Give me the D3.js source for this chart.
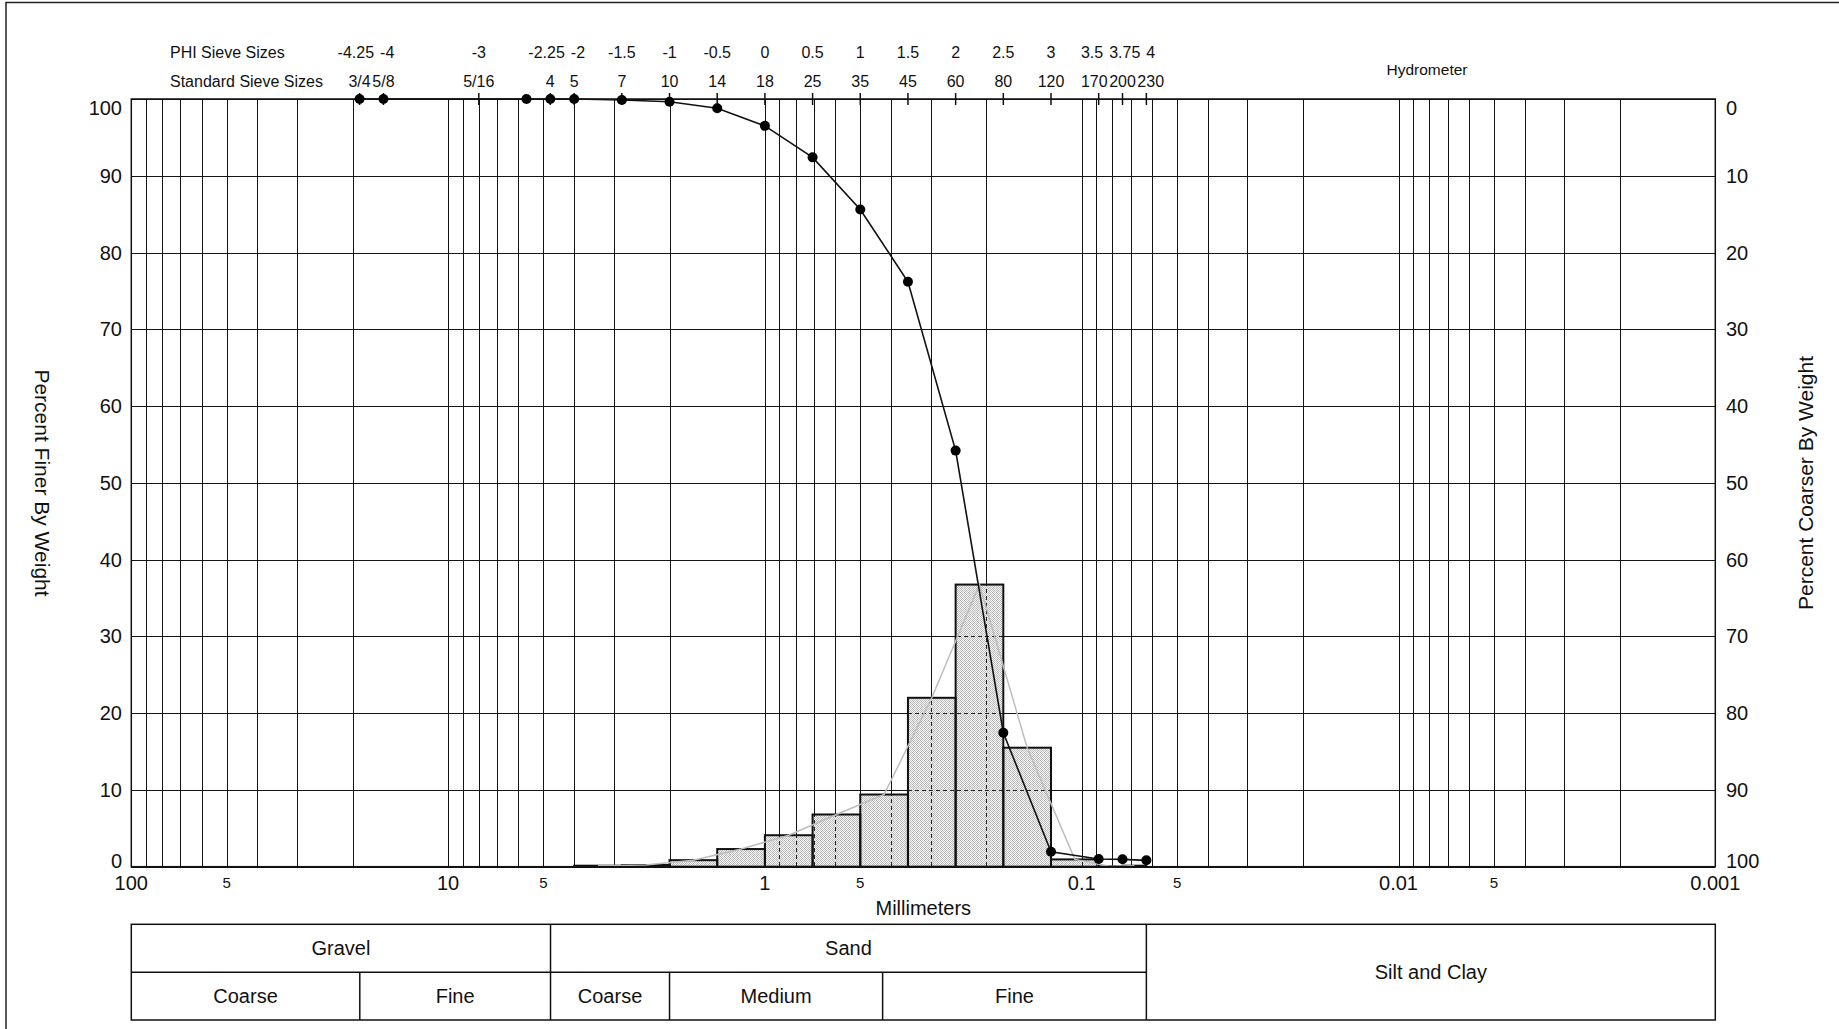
<!DOCTYPE html>
<html><head><meta charset="utf-8">
<script src="https://cdn.jsdelivr.net/npm/d3@7"></script>
<style>
html,body{margin:0;padding:0;background:#fff;}
svg{display:block;font-family:"Liberation Sans",Arial,Helvetica,sans-serif;}
</style></head><body>
<svg id="chart" width="1839" height="1029"></svg>
<script>
// Sieve stack: phi sizes and the matching standard sieve numbers
const phiSieves   = [-4.25, -4, -3, -2.25, -2, -1.5, -1, -0.5, 0, 0.5, 1, 1.5, 2, 2.5, 3, 3.5, 3.75, 4];
const phiLabels   = ["-4.25","-4","-3","-2.25","-2","-1.5","-1","-0.5","0","0.5","1","1.5","2","2.5","3","3.5","3.75","4"];
const sieveLabels = ["3/4","5/8","5/16","4","5","7","10","14","18","25","35","45","60","80","120","170","200","230"];

// Cumulative percent finer at each weighed sieve (phi)
const cumPhi   = [-4.25, -4, -2.5, -2.25, -2, -1.5, -1, -0.5, 0, 0.5, 1, 1.5, 2, 2.5, 3, 3.5, 3.75, 4];
const cumFiner = [100, 100, 100, 100, 100, 99.87, 99.65, 98.8, 96.5, 92.4, 85.6, 76.2, 54.2, 17.45, 1.95, 1.0, 0.96, 0.83];

// Percent retained per sieve interval (histogram bins, phi)
const binLo  = [-2, -1.5, -1, -0.5, 0, 0.5, 1, 1.5, 2, 2.5, 3, 3.5, 3.75];
const binHi  = [-1.5, -1, -0.5, 0, 0.5, 1, 1.5, 2, 2.5, 3, 3.5, 3.75, 4];
const binPct = [0.13, 0.22, 0.85, 2.3, 4.1, 6.8, 9.4, 22.0, 36.75, 15.5, 0.95, 0.04, 0.13];

// Axis ticks
const majorTicks  = [100, 10, 1, 0.1, 0.01, 0.001];
const majorLabels = ["100", "10", "1", "0.1", "0.01", "0.001"];
const minorTicks  = [50, 5, 0.5, 0.05, 0.005];
const minorLabels = ["5", "5", "5", "5", "5"];
const yTicks = [0, 10, 20, 30, 40, 50, 60, 70, 80, 90, 100];

// Grain-size classes (mm edges)
const classNames = ["Gravel", "Sand", "Silt and Clay"];
const classEdges = [100, 4.75, 0.0625, 0.001];
const subNames   = ["Coarse", "Fine", "Coarse", "Medium", "Fine"];
const subEdges   = [100, 19, 4.75, 2, 0.425, 0.0625];

const mm = p => Math.pow(2, -p);

const svg = d3.select("#chart");
const plotTop = 99, plotBottom = 866.7;
const x = d3.scaleLog().domain([100, 0.001]).range([131.3, 1715.3]);
const y = d3.scaleLinear().domain([0, 100]).range([plotBottom, plotTop]);
const ink = "#111";

// outer frame
svg.append("path").attr("d", "M6,1029 V2.5 H1839").attr("fill", "none")
  .attr("stroke", "#222").attr("stroke-width", 1.5);

// pattern for the histogram bars
const defs = svg.append("defs");
const pat = defs.append("pattern").attr("id", "stip").attr("patternUnits", "userSpaceOnUse")
  .attr("x", 0).attr("y", 0).attr("width", 4).attr("height", 4);
pat.append("rect").attr("width", 4).attr("height", 4).attr("fill", "#f4f4f4");
[[0,0],[2,0],[1,1],[0,2],[2,2],[3,3],[1,3],[3,1]].forEach(([a,b], i) => {
  pat.append("rect").attr("x", a).attr("y", b).attr("width", 1).attr("height", 1)
    .attr("fill", i % 2 ? "#c4c4c4" : "#b2b2b2");
});

// gridline values: 1..9 x 10^k plus 100
const gridX = [];
for (let k = -3; k <= 1; k++) for (let d = 1; d <= 9; d++) gridX.push(d * Math.pow(10, k));
gridX.push(100);

const grid = svg.append("g").attr("stroke", "#141414").attr("stroke-width", 1).attr("shape-rendering", "crispEdges");
function drawGrid(g) {
  g.selectAll("line.v").data(gridX).join("line").attr("class", "v")
    .attr("x1", d => Math.round(x(d)) + 0.5).attr("x2", d => Math.round(x(d)) + 0.5)
    .attr("y1", plotTop).attr("y2", plotBottom);
  g.selectAll("line.h").data(yTicks).join("line").attr("class", "h")
    .attr("x1", x(100)).attr("x2", x(0.001))
    .attr("y1", d => Math.round(y(d)) + 0.5).attr("y2", d => Math.round(y(d)) + 0.5);
}
drawGrid(grid);

// histogram bars
const bins = binLo.map((lo, i) => ({ lo: mm(lo), hi: mm(binHi[i]), v: binPct[i], mid: mm((lo + binHi[i]) / 2) }));
const clip = defs.append("clipPath").attr("id", "barclip");
clip.selectAll("rect").data(bins).join("rect")
  .attr("x", d => x(d.lo)).attr("width", d => x(d.hi) - x(d.lo))
  .attr("y", d => y(d.v)).attr("height", d => y(0) - y(d.v));

svg.append("g").selectAll("rect").data(bins).join("rect")
  .attr("x", d => x(d.lo)).attr("width", d => x(d.hi) - x(d.lo))
  .attr("y", d => y(d.v)).attr("height", d => y(0) - y(d.v))
  .attr("fill", "url(#stip)");

// gridlines show through the bars as dashes
const gridIn = svg.append("g").attr("clip-path", "url(#barclip)")
  .attr("stroke", "#222").attr("stroke-width", 1).attr("stroke-dasharray", "4,3").attr("shape-rendering", "crispEdges");
drawGrid(gridIn);

svg.append("g").selectAll("rect").data(bins).join("rect")
  .attr("x", d => x(d.lo)).attr("width", d => x(d.hi) - x(d.lo))
  .attr("y", d => y(d.v)).attr("height", d => y(0) - y(d.v))
  .attr("fill", "none").attr("stroke", ink).attr("stroke-width", 2);

// frequency polygon through bin midpoints
svg.append("path").datum(bins)
  .attr("d", d3.line().x(d => x(d.mid)).y(d => y(d.v)))
  .attr("fill", "none").attr("stroke", "#bdbdbd").attr("stroke-width", 1.5);

// plot border
svg.append("rect").attr("x", x(100)).attr("y", plotTop).attr("width", x(0.001) - x(100)).attr("height", plotBottom - plotTop)
  .attr("fill", "none").attr("stroke", ink).attr("stroke-width", 1.5);

// sieve ticks along the top edge
svg.append("g").selectAll("line").data(phiSieves).join("line")
  .attr("x1", d => x(mm(d))).attr("x2", d => x(mm(d)))
  .attr("y1", plotTop - 6).attr("y2", plotTop + 6)
  .attr("stroke", ink).attr("stroke-width", 1.5);

// cumulative curve
const cum = cumPhi.map((p, i) => ({ s: mm(p), v: cumFiner[i] }));
svg.append("path").datum(cum)
  .attr("d", d3.line().x(d => x(d.s)).y(d => y(d.v)))
  .attr("fill", "none").attr("stroke", ink).attr("stroke-width", 1.6);
svg.append("g").selectAll("circle").data(cum).join("circle")
  .attr("cx", d => x(d.s)).attr("cy", d => y(d.v)).attr("r", 5).attr("fill", "#000");

// top label rows
const txt = svg.append("g").attr("fill", ink);
txt.append("text").attr("x", 170).attr("y", 58).attr("font-size", 16).text("PHI Sieve Sizes");
txt.append("text").attr("x", 170).attr("y", 87).attr("font-size", 16).text("Standard Sieve Sizes");

// spread neighbouring labels of a row apart so they do not collide
function spreadRow(sel, gap) {
  const nodes = sel.nodes();
  const w = nodes.map(n => n.getComputedTextLength());
  const cx = nodes.map(n => +n.getAttribute("x"));
  for (let it = 0; it < 60; it++) {
    for (let i = 0; i < cx.length - 1; i++) {
      const need = (w[i] + w[i + 1]) / 2 + gap - (cx[i + 1] - cx[i]);
      if (need > 0.01) { cx[i] -= need / 2; cx[i + 1] += need / 2; }
    }
  }
  nodes.forEach((n, i) => n.setAttribute("x", cx[i]));
}
const phiRow = txt.append("g").selectAll("text").data(phiSieves).join("text")
  .attr("x", d => x(mm(d))).attr("y", 58).attr("font-size", 16).attr("text-anchor", "middle")
  .text((d, i) => phiLabels[i]);
const stdRow = txt.append("g").selectAll("text").data(phiSieves).join("text")
  .attr("x", d => x(mm(d))).attr("y", 87).attr("font-size", 16).attr("text-anchor", "middle")
  .text((d, i) => sieveLabels[i]);
spreadRow(phiRow, 6);
spreadRow(stdRow, 1.5);
txt.append("text").attr("x", 1427).attr("y", 75).attr("font-size", 15.5).attr("text-anchor", "middle").text("Hydrometer");

// y axes (end labels kept inside the frame)
const yShift = d => d === 100 ? 8.5 : (d === 0 ? -6 : 0);
txt.append("g").selectAll("text").data(yTicks).join("text")
  .attr("x", 122).attr("y", d => y(d) + yShift(d) + 7).attr("font-size", 20).attr("text-anchor", "end")
  .text(d => d);
txt.append("g").selectAll("text").data(yTicks).join("text")
  .attr("x", 1726).attr("y", d => y(d) + yShift(d) + 7).attr("font-size", 20)
  .text(d => 100 - d);

// x axis labels
txt.append("g").selectAll("text").data(majorTicks).join("text")
  .attr("x", d => x(d)).attr("y", 890).attr("font-size", 20).attr("text-anchor", "middle")
  .text((d, i) => majorLabels[i]);
txt.append("g").selectAll("text").data(minorTicks).join("text")
  .attr("x", d => x(d)).attr("y", 888).attr("font-size", 15).attr("text-anchor", "middle")
  .text((d, i) => minorLabels[i]);
txt.append("text").attr("x", (x(100) + x(0.001)) / 2).attr("y", 915).attr("font-size", 20)
  .attr("text-anchor", "middle").text("Millimeters");

// axis titles
txt.append("text").attr("transform", "translate(35,483) rotate(90)").attr("font-size", 21)
  .attr("text-anchor", "middle").text("Percent Finer By Weight");
txt.append("text").attr("transform", "translate(1813,483) rotate(-90)").attr("font-size", 21)
  .attr("text-anchor", "middle").text("Percent Coarser By Weight");

// grain-size classification table
const tTop = 924.3, tMid = 972.3, tBot = 1020;
const tbl = svg.append("g").attr("stroke", ink).attr("stroke-width", 1.5).attr("fill", "none");
tbl.append("rect").attr("x", x(100)).attr("y", tTop).attr("width", x(0.001) - x(100)).attr("height", tBot - tTop);
tbl.append("line").attr("x1", x(100)).attr("x2", x(classEdges[2])).attr("y1", tMid).attr("y2", tMid);
tbl.selectAll("line.c").data(classEdges.slice(1, 3)).join("line").attr("class", "c")
  .attr("x1", d => x(d)).attr("x2", d => x(d)).attr("y1", tTop).attr("y2", tBot);
tbl.selectAll("line.s").data([subEdges[1], subEdges[3], subEdges[4]]).join("line").attr("class", "s")
  .attr("x1", d => x(d)).attr("x2", d => x(d)).attr("y1", tMid).attr("y2", tBot);

txt.append("g").selectAll("text").data(classNames).join("text")
  .attr("x", (d, i) => (x(classEdges[i]) + x(classEdges[i + 1])) / 2)
  .attr("y", (d, i) => i === 2 ? (tTop + tBot) / 2 + 7 : (tTop + tMid) / 2 + 7)
  .attr("font-size", 20).attr("text-anchor", "middle").text(d => d);
txt.append("g").selectAll("text").data(subNames).join("text")
  .attr("x", (d, i) => (x(subEdges[i]) + x(subEdges[i + 1])) / 2)
  .attr("y", (tMid + tBot) / 2 + 7)
  .attr("font-size", 20).attr("text-anchor", "middle").text(d => d);
</script>
</body></html>
